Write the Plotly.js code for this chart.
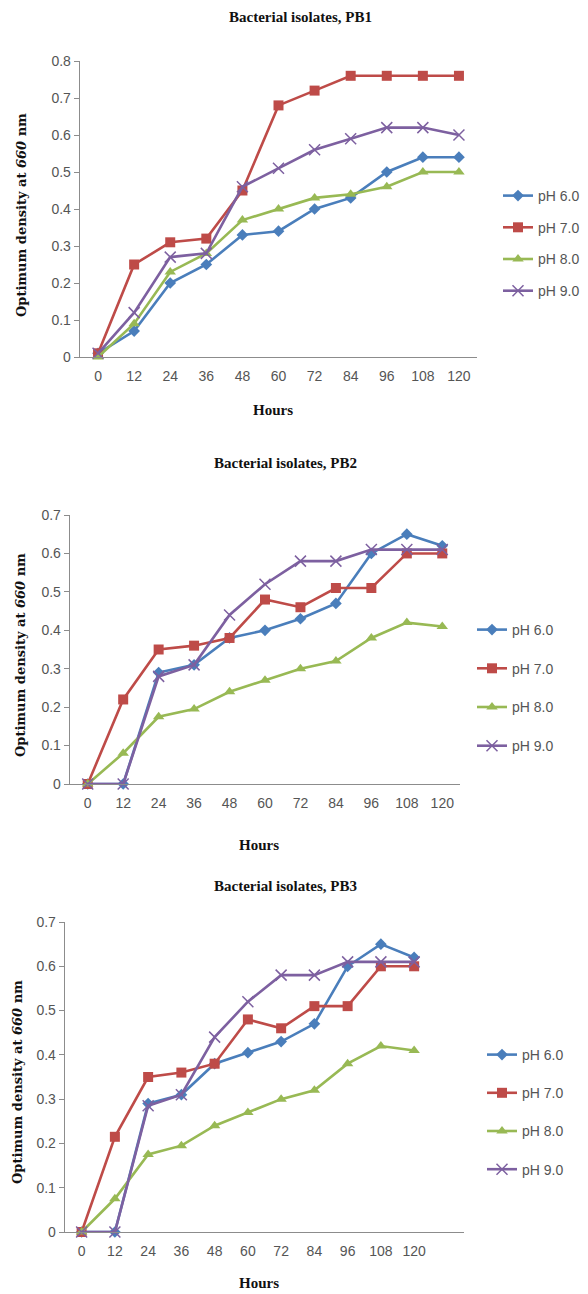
<!DOCTYPE html>
<html><head><meta charset="utf-8">
<script src="https://cdn.plot.ly/plotly-3.0.1.min.js"></script>
<style>html,body{margin:0;padding:0;background:#fff}#chart{width:588px;height:1294px}</style>
</head><body><div id="chart"></div>
<script>
const hours = [0, 12, 24, 36, 48, 60, 72, 84, 96, 108, 120];
const seriesNames = ['pH 6.0', 'pH 7.0', 'pH 8.0', 'pH 9.0'];
const panelTitles = ['Bacterial isolates, PB1', 'Bacterial isolates, PB2', 'Bacterial isolates, PB3'];

const pb1_ph6 = [0.01, 0.07, 0.20, 0.25, 0.33, 0.34, 0.40, 0.43, 0.50, 0.54, 0.54];
const pb1_ph7 = [0.01, 0.25, 0.31, 0.32, 0.45, 0.68, 0.72, 0.76, 0.76, 0.76, 0.76];
const pb1_ph8 = [0.00, 0.09, 0.23, 0.28, 0.37, 0.40, 0.43, 0.44, 0.46, 0.50, 0.50];
const pb1_ph9 = [0.01, 0.12, 0.27, 0.28, 0.46, 0.51, 0.56, 0.59, 0.62, 0.62, 0.60];

const pb2_ph6 = [0.00, 0.00, 0.29, 0.31, 0.38, 0.40, 0.43, 0.47, 0.60, 0.65, 0.62];
const pb2_ph7 = [0.00, 0.22, 0.35, 0.36, 0.38, 0.48, 0.46, 0.51, 0.51, 0.60, 0.60];
const pb2_ph8 = [0.00, 0.08, 0.175, 0.195, 0.24, 0.27, 0.30, 0.32, 0.38, 0.42, 0.41];
const pb2_ph9 = [0.00, 0.00, 0.28, 0.31, 0.44, 0.52, 0.58, 0.58, 0.61, 0.61, 0.61];

const pb3_ph6 = [0.00, 0.00, 0.29, 0.31, 0.38, 0.405, 0.43, 0.47, 0.60, 0.65, 0.62];
const pb3_ph7 = [0.00, 0.215, 0.35, 0.36, 0.38, 0.48, 0.46, 0.51, 0.51, 0.60, 0.60];
const pb3_ph8 = [0.00, 0.075, 0.175, 0.195, 0.24, 0.27, 0.30, 0.32, 0.38, 0.42, 0.41];
const pb3_ph9 = [0.00, 0.00, 0.285, 0.31, 0.44, 0.52, 0.58, 0.58, 0.61, 0.61, 0.61];

const panels = [
  [pb1_ph6, pb1_ph7, pb1_ph8, pb1_ph9],
  [pb2_ph6, pb2_ph7, pb2_ph8, pb2_ph9],
  [pb3_ph6, pb3_ph7, pb3_ph8, pb3_ph9]
];

const colors = ['#4A7EBB', '#BE4B48', '#98B954', '#7D60A0'];
const symbols = ['diamond', 'square', 'triangle-up', 'x-thin-open'];
const msizes = [9, 10, 10, 11];

const W = 588, H = 1294;
const geo = [
  {x0: 80, x1: 477, xr: [-6, 126], yTop: 61, yBot: 357, ymax: 0.8, title: 17, tx: 300, hours: 410, ylab: 22, yc: 215, legX: 498, legY: 180, gap: 10.5},
  {x0: 70, x1: 460, xr: [-6, 126], yTop: 515, yBot: 784, ymax: 0.7, title: 463, tx: 285, hours: 845, ylab: 20, yc: 655, legX: 472, legY: 614, gap: 17.5},
  {x0: 65, x1: 464, xr: [-6, 138], yTop: 922, yBot: 1232, ymax: 0.7, title: 886, tx: 285, hours: 1283, ylab: 17, yc: 1082, legX: 482, legY: 1039, gap: 17}
];

const tickFont = {size: 14, color: '#555', family: 'Liberation Sans Narrow, Liberation Sans, Arial'};
const data = [];
const layout = {
  width: W, height: H, margin: {l: 0, r: 0, t: 0, b: 0},
  paper_bgcolor: '#fff', plot_bgcolor: '#fff',
  font: {family: 'Liberation Sans, Arial, sans-serif', color: '#595959'},
  annotations: [], showlegend: true
};

panels.forEach((series, p) => {
  const g = geo[p];
  const xa = p === 0 ? 'x' : 'x' + (p + 1);
  const ya = p === 0 ? 'y' : 'y' + (p + 1);
  const lg = p === 0 ? 'legend' : 'legend' + (p + 1);
  series.forEach((vals, i) => {
    data.push({
      x: hours, y: vals, type: 'scatter', mode: 'lines+markers',
      name: seriesNames[i], xaxis: xa, yaxis: ya, legend: lg,
      legendgroup: 'p' + p + 's' + i,
      line: {color: colors[i], width: 2.6},
      marker: {symbol: symbols[i], size: msizes[i], color: colors[i],
               line: {color: colors[i], width: i === 3 ? 1.5 : 0}},
      cliponaxis: false
    });
  });
  const xKey = p === 0 ? 'xaxis' : 'xaxis' + (p + 1);
  const yKey = p === 0 ? 'yaxis' : 'yaxis' + (p + 1);
  layout[xKey] = {
    domain: [g.x0 / W, g.x1 / W], anchor: ya, range: g.xr,
    tickmode: 'array', tickvals: hours, ticktext: hours.map(String),
    showgrid: false, zeroline: false, showline: true, linecolor: '#8C8C8C', linewidth: 1.3,
    ticks: '', tickfont: tickFont, ticklabelstandoff: 6, fixedrange: true
  };
  layout[yKey] = {
    domain: [1 - g.yBot / H, 1 - g.yTop / H], anchor: xa, range: [0, g.ymax],
    dtick: 0.1, tickformat: '.1~f',
    showgrid: false, zeroline: false, showline: true, linecolor: '#8C8C8C', linewidth: 1.3,
    ticks: 'outside', ticklen: 5, tickcolor: '#8C8C8C', tickfont: tickFont, fixedrange: true
  };
  layout[lg] = {
    x: g.legX / W, y: 1 - g.legY / H, xanchor: 'left', yanchor: 'top',
    xref: 'paper', yref: 'paper', bgcolor: 'rgba(0,0,0,0)',
    traceorder: 'grouped', tracegroupgap: g.gap, itemwidth: 30, font: tickFont
  };
  layout.annotations.push({
    text: '<b>' + panelTitles[p] + '</b>', xref: 'paper', yref: 'paper',
    x: g.tx / W, y: 1 - g.title / H, xanchor: 'center', yanchor: 'middle',
    showarrow: false, font: {family: 'Liberation Serif, Times New Roman, serif', size: 15, color: '#111'}
  });
  layout.annotations.push({
    text: '<b>Hours</b>', xref: 'paper', yref: 'paper',
    x: (g.x0 + g.x1) / 2 / W - 0.01, y: 1 - g.hours / H, xanchor: 'center', yanchor: 'middle',
    showarrow: false, font: {family: 'Liberation Serif, Times New Roman, serif', size: 15, color: '#111'}
  });
  layout.annotations.push({
    text: '<b>Optimum density at <i>660</i> nm</b>', xref: 'paper', yref: 'paper',
    x: g.ylab / W, y: 1 - g.yc / H, xanchor: 'center', yanchor: 'middle',
    textangle: -90, showarrow: false,
    font: {family: 'DejaVu Serif, Liberation Serif, serif', size: 13, color: '#111'}
  });
});

Plotly.newPlot('chart', data, layout, {displayModeBar: false, staticPlot: true});
</script></body></html>
